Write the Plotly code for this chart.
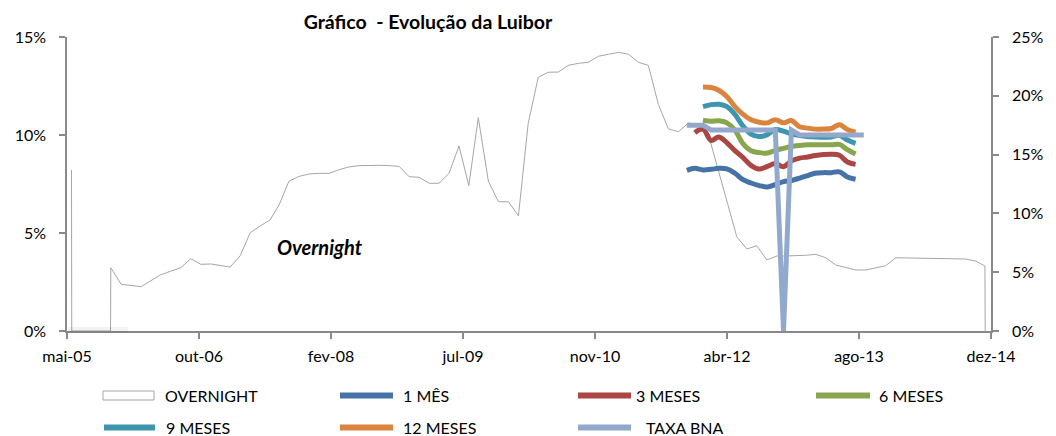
import datetime as dt
import plotly.graph_objects as go

# ---------------- data ----------------
X_TICK_LABELS = ["mai-05", "out-06", "fev-08", "jul-09", "nov-10", "abr-12", "ago-13", "dez-14"]
AXIS_START = "2005-05-28"
TICK_STEP_DAYS = 500

LEFT_TICKS = [0, 5, 10, 15]
RIGHT_TICKS = [0, 5, 10, 15, 20, 25]

SERIES_NAMES = ["OVERNIGHT", "1 MÊS", "3 MESES", "6 MESES", "9 MESES", "12 MESES", "TAXA BNA"]

OVN_DATES = [
    "2005-06-14", "2005-06-15", "2005-11-09", "2005-11-10", "2005-12-19", "2006-01-26", "2006-03-05",
    "2006-04-11", "2006-05-16", "2006-06-24", "2006-08-02", "2006-09-09", "2006-10-17", "2006-11-24",
    "2006-12-31", "2007-02-05", "2007-03-15", "2007-04-22", "2007-05-30", "2007-07-06", "2007-08-09",
    "2007-09-16", "2007-10-24", "2007-12-01", "2008-01-08", "2008-02-15", "2008-03-24", "2008-04-30",
    "2008-06-07", "2008-07-15", "2008-08-22", "2008-09-29", "2008-11-06", "2008-12-14", "2009-01-21",
    "2009-02-28", "2009-04-06", "2009-05-14", "2009-06-21", "2009-07-28", "2009-09-02", "2009-10-10",
    "2009-11-17", "2009-12-25", "2010-02-01", "2010-03-10", "2010-04-17", "2010-05-25", "2010-07-02",
    "2010-08-09", "2010-09-16", "2010-10-24", "2010-12-01", "2011-01-08", "2011-02-15", "2011-03-25",
    "2011-05-01", "2011-06-08", "2011-07-16", "2011-08-23", "2011-09-30", "2011-11-07", "2011-12-15",
    "2012-01-21", "2012-02-28", "2012-04-06", "2012-05-08", "2012-06-15", "2012-07-23", "2012-08-30",
    "2012-10-07", "2012-11-10", "2012-12-18", "2013-01-24", "2013-03-03", "2013-04-10", "2013-05-18",
    "2013-06-25", "2013-08-02", "2013-09-09", "2013-10-17", "2013-11-23", "2013-12-31", "2014-02-07",
    "2014-03-17", "2014-04-24", "2014-06-01", "2014-07-09", "2014-08-15", "2014-09-22", "2014-10-30",
    "2014-12-04", "2014-12-05",
]
OVN_VALUES = [
    13.69, 0, 0, 5.38, 3.97, 3.89, 3.77,
    4.28, 4.76, 5.08, 5.38, 6.15, 5.67, 5.70,
    5.59, 5.44, 6.40, 8.36, 8.93, 9.44, 10.71,
    12.75, 13.15, 13.35, 13.41, 13.41, 13.72, 13.95,
    14.06, 14.09, 14.09, 14.06, 14.00, 13.12, 13.07,
    12.56, 12.56, 13.41, 15.73, 12.36, 18.14, 12.75,
    10.99, 10.99, 9.80, 17.66, 21.57, 22.00, 22.02,
    22.59, 22.76, 22.85, 23.36, 23.53, 23.70, 23.53,
    22.85, 22.59, 19.28, 17.18, 16.95, 17.69, 17.52,
    16.75, 13.69, 10.63, 8.02, 6.97, 7.25, 6.04,
    6.38, 6.38, 6.38, 6.44, 6.52, 6.23, 5.61,
    5.38, 5.19, 5.19, 5.38, 5.55, 6.23, 6.21,
    6.18, 6.15, 6.15, 6.15, 6.14, 6.12, 5.95,
    5.53, 0,
]

MONTHS = [
    "2011-11-01", "2011-12-01", "2012-01-01", "2012-02-01", "2012-03-01", "2012-04-01", "2012-05-01",
    "2012-06-01", "2012-07-01", "2012-08-01", "2012-09-01", "2012-10-01", "2012-11-01", "2012-12-01",
    "2013-01-01", "2013-02-01", "2013-03-01", "2013-04-01", "2013-05-01", "2013-06-01", "2013-07-01",
    "2013-08-01", "2013-09-01",
]
LUIBOR_1M = [8.20, 8.30, 8.22, 8.25, 8.30, 8.27, 8.05, 7.72, 7.55, 7.42, 7.35, 7.47, 7.62, 7.68,
             7.80, 7.93, 8.05, 8.08, 8.08, 8.12, 7.86, 7.74, None]
LUIBOR_3M = [None, 10.12, 10.30, 9.72, 9.90, 9.60, 9.20, 8.85, 8.45, 8.26, 8.40, 8.54, 8.38, 8.68,
             8.82, 8.88, 8.95, 9.00, 9.02, 8.97, 8.62, 8.50, None]
LUIBOR_6M = [None, None, 10.75, 10.70, 10.73, 10.62, 10.25, 9.55, 9.20, 9.10, 9.08, 9.22, 9.32, 9.42,
             9.47, 9.50, 9.50, 9.50, 9.50, 9.52, 9.25, 9.03, None]
LUIBOR_9M = [None, None, 11.45, 11.55, 11.57, 11.45, 11.05, 10.45, 10.05, 9.92, 10.02, 10.28, 10.20, 10.05,
             9.98, 9.92, 9.90, 9.88, 9.90, 9.98, 9.74, 9.57, None]
LUIBOR_12M = [None, None, 12.45, 12.42, 12.28, 11.95, 11.45, 11.05, 10.78, 10.65, 10.62, 10.78, 10.62, 10.74,
              10.42, 10.35, 10.30, 10.30, 10.33, 10.52, 10.28, 10.15, None]
TAXA_BNA = [10.5, 10.5, 10.5, 10.25, 10.25, 10.25, 10.25, 10.25, 10.25, 10.25, 10.25, 10.25, 0, 10.25,
            10.0, 10.0, 10.0, 10.0, 10.0, 10.0, 10.0, 10.0, 10.0]

COLORS = ["#a6a6a6", "#4572A7", "#AA4643", "#89A54E", "#3D96AE", "#DB843D", "#92A8CD"]

# ---------------- layout geometry (pixels) ----------------
W, H = 1056, 436
PL, PR, PT, PB = 67, 991, 37, 331
FONT = "Lato, 'Open Sans', Arial, sans-serif"
AXIS_COLOR = "#898989"


def px_x(p):
    return (p - PL) / (PR - PL)


def px_y(p):
    return (PB - p) / (PB - PT)


start = dt.date.fromisoformat(AXIS_START)
tickvals = [(start + dt.timedelta(days=TICK_STEP_DAYS * i)).isoformat() for i in range(len(X_TICK_LABELS))]

fig = go.Figure()

# Overnight area on the primary (right-hand) axis so it is drawn underneath
fig.add_trace(go.Scatter(
    x=OVN_DATES, y=OVN_VALUES, name=SERIES_NAMES[0], mode="lines",
    line=dict(color=COLORS[0], width=1), fill="tozeroy", fillcolor="rgba(255,255,255,1)",
    yaxis="y", showlegend=False,
))

series_vals = [LUIBOR_1M, LUIBOR_3M, LUIBOR_6M, LUIBOR_9M, LUIBOR_12M, TAXA_BNA]
for name, vals, col in zip(SERIES_NAMES[1:], series_vals, COLORS[1:]):
    if name == "TAXA BNA":
        line = dict(color=col, width=5, shape="linear")
    else:
        line = dict(color=col, width=5, shape="spline", smoothing=1)
    fig.add_trace(go.Scatter(x=MONTHS, y=vals, name=name, mode="lines", line=line,
                             yaxis="y2", showlegend=False))

axis_common = dict(showline=True, linecolor=AXIS_COLOR, linewidth=1.5, ticks="outside",
                   ticklen=6, tickcolor=AXIS_COLOR, tickwidth=1.5, showgrid=False, zeroline=False,
                   tickfont=dict(family=FONT, size=16, color="#000000"))

fig.update_layout(
    width=W, height=H,
    margin=dict(l=PL, r=W - PR, t=PT, b=H - PB),
    paper_bgcolor="white", plot_bgcolor="white",
    font=dict(family=FONT, size=16, color="#000000"),
    title=dict(text="<b>Gráfico\u00a0 - Evolução da Luibor</b>", x=px_x(428), xref="paper",
               xanchor="center", y=1 - 22 / H, yref="container", yanchor="middle",
               font=dict(family=FONT, size=19.5, color="#000000")),
    xaxis=dict(type="date", range=[tickvals[0], tickvals[-1]], tickmode="array",
               tickvals=tickvals, ticktext=X_TICK_LABELS, ticklabelstandoff=4, **axis_common),
    yaxis=dict(range=[0, 25], tickmode="array", tickvals=RIGHT_TICKS,
               ticktext=[f"{v}%" for v in RIGHT_TICKS], side="right",
               ticklabelstandoff=10, **axis_common),
    yaxis2=dict(range=[0, 15], tickmode="array", tickvals=LEFT_TICKS,
                ticktext=[f"{v}%" for v in LEFT_TICKS], overlaying="y", side="left",
                ticklabelstandoff=10, **axis_common),
    showlegend=False,
)

# faint shadow at bottom-left baseline
fig.add_shape(type="rect", xref="paper", yref="paper", x0=px_x(68), x1=px_x(128),
              y0=px_y(333), y1=px_y(327), fillcolor="rgba(0,0,0,0.05)", line=dict(width=0),
              layer="above")

fig.add_annotation(text="<b><i>Overnight</i></b>", xref="paper", yref="paper",
                   x=px_x(319.5), y=px_y(247), showarrow=False, xanchor="center", yanchor="middle",
                   font=dict(family=FONT, size=20, color="#000000"))

# ---------------- manual legend ----------------
ROW1, ROW2 = 395.5, 427.5
legend_items = [
    # name index, symbol x0, symbol x1, text x, row
    (0, 103, 154, 163, ROW1),
    (1, 340, 393, 401, ROW1),
    (2, 578, 631, 634, ROW1),
    (3, 816, 870, 877, ROW1),
    (4, 104, 155, 164, ROW2),
    (5, 340, 393, 401, ROW2),
    (6, 578, 631, 644, ROW2),
]
for idx, x0, x1, tx, row in legend_items:
    if idx == 0:
        fig.add_shape(type="rect", xref="paper", yref="paper", x0=px_x(x0), x1=px_x(x1),
                      y0=px_y(row + 4.5), y1=px_y(row - 4.5), fillcolor="white",
                      line=dict(color=COLORS[0], width=1))
    else:
        fig.add_shape(type="line", xref="paper", yref="paper", x0=px_x(x0), x1=px_x(x1),
                      y0=px_y(row), y1=px_y(row), line=dict(color=COLORS[idx], width=6))
    fig.add_annotation(text=SERIES_NAMES[idx], xref="paper", yref="paper", x=px_x(tx), y=px_y(row),
                       showarrow=False, xanchor="left", yanchor="middle",
                       font=dict(family=FONT, size=16, color="#000000"))

fig.write_html("out.html", config={"displayModeBar": False},
               post_script="document.body.style.margin='0px';document.body.style.overflow='hidden';")
